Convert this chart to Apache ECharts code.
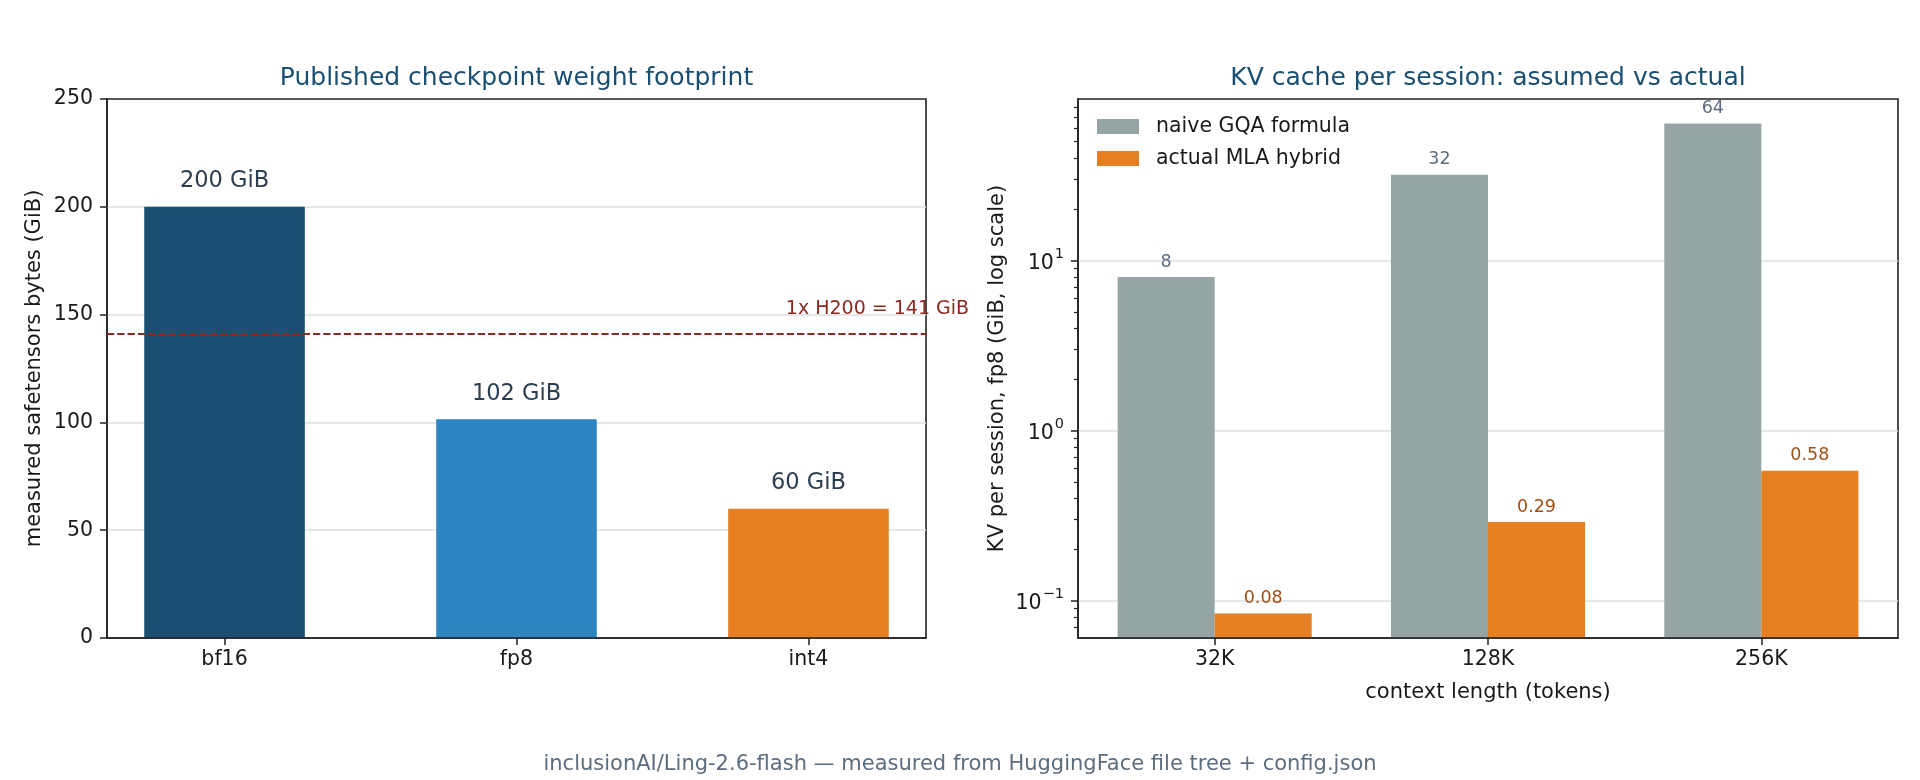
<!DOCTYPE html>
<html>
<head>
<meta charset="utf-8">
<title>Ling-2.6-flash footprint</title>
<script src="https://cdn.jsdelivr.net/npm/echarts@6/dist/echarts.min.js"></script>
<style>
  html, body { margin: 0; padding: 0; background: #fff; }
  #chart { width: 1920px; height: 780px; }
</style>
</head>
<body>
<div id="chart"></div>
<script>
// ---- data ----
const weightCats = ['bf16', 'fp8', 'int4'];
const weightGiB = [200, 101.5, 60];
const weightLabels = ['200 GiB', '102 GiB', '60 GiB'];
const h200GiB = 141;
const h200Text = '1x H200 = 141 GiB';

const ctxCats = ['32K', '128K', '256K'];
const naiveGQA = [8, 32, 64];
const actualMLA = [0.084, 0.29, 0.58];
const naiveLabels = ['8', '32', '64'];
const mlaLabels = ['0.08', '0.29', '0.58'];
const seriesNames = ['naive GQA formula', 'actual MLA hybrid'];

const logMajor = [0.1, 1, 10];
const logMajorExp = ['\u22121', '0', '1'];

// ---- style / layout ----
const FONT = 'DejaVu Sans';
const weightColors = ['#1b4f72', '#2e86c1', '#e67e22'];
const gray = '#95a5a6', orange = '#e67e22';
const frame = '#222', gridCol = '#dbe0e1';
const G0 = { left: 107, width: 819, top: 99, height: 539 };
const G1 = { left: 1078, width: 820, top: 99, height: 539 };

// matplotlib-like x limits for the left chart (bar width 0.55, 5% margin)
const bw = 0.55;
const lo = -bw / 2, hi = weightCats.length - 1 + bw / 2;
const xMin = lo - 0.05 * (hi - lo), xMax = hi + 0.05 * (hi - lo);
const barPx = bw * G0.width / (xMax - xMin);

// log limits for the right chart (5% margin in log space)
const allKV = naiveGQA.concat(actualMLA);
const lgLo = Math.log10(Math.min.apply(null, allKV));
const lgHi = Math.log10(Math.max.apply(null, allKV));
const logMin = Math.pow(10, lgLo - 0.05 * (lgHi - lgLo));
const logMax = Math.pow(10, lgHi + 0.05 * (lgHi - lgLo));
const logMinor = [];
for (let e = -2; e <= 1; e++) {
  for (let k = 2; k <= 9; k++) {
    const v = k * Math.pow(10, e);
    if (v > logMin && v < logMax) logMinor.push(v);
  }
}

const tickLabel = { fontFamily: FONT, fontSize: 20.5, color: '#1a1a1a', margin: 14 };
const xTickLabel = Object.assign({}, tickLabel, { margin: 11 });
const nameStyle = { fontFamily: FONT, fontSize: 21, color: '#1a1a1a' };
const axLine = { show: true, onZero: false, lineStyle: { color: frame, width: 1.6 } };
const gridLineLin = { show: true, showMinLine: false, showMaxLine: false, lineStyle: { color: gridCol, width: 1.5 } };
const gridLineLog = { show: true, lineStyle: { color: gridCol, width: 1.5 } };

function logLabel(v) {
  const i = logMajor.findIndex(m => Math.abs(Math.log10(m) - Math.log10(v)) < 1e-6);
  return i < 0 ? '' : '{b|10}{e|' + logMajorExp[i] + '}';
}

const chart = echarts.init(document.getElementById('chart'), null, { renderer: 'canvas' });

const option = {
  animation: false,
  backgroundColor: '#fff',
  textStyle: { fontFamily: FONT },
  grid: [
    Object.assign({ show: true, borderColor: frame, borderWidth: 1.6, backgroundColor: 'transparent' }, G0),
    Object.assign({ show: true, borderColor: frame, borderWidth: 1.6, backgroundColor: 'transparent' }, G1)
  ],
  legend: {
    data: seriesNames,
    orient: 'vertical',
    left: 1092, top: 111,
    itemWidth: 42, itemHeight: 15, itemGap: 11,
    icon: 'rect',
    textStyle: { fontFamily: FONT, fontSize: 20.5, color: '#1a1a1a', lineHeight: 21, padding: [0, 0, 0, 12] }
  },
  xAxis: [
    {
      type: 'value', gridIndex: 0, min: xMin, max: xMax, z: 10,
      axisLine: axLine,
      axisTick: { show: true, length: 7, lineStyle: { color: frame, width: 1.5 }, customValues: [0, 1, 2] },
      axisLabel: Object.assign({ customValues: [0, 1, 2], formatter: v => weightCats[Math.round(v)] }, xTickLabel),
      splitLine: { show: false }
    },
    {
      type: 'category', gridIndex: 1, data: ctxCats, z: 10,
      name: 'context length (tokens)', nameLocation: 'middle', nameGap: 44, nameTextStyle: nameStyle,
      axisLine: axLine,
      axisTick: { show: true, alignWithLabel: true, length: 7, lineStyle: { color: frame, width: 1.5 } },
      axisLabel: xTickLabel,
      splitLine: { show: false }
    }
  ],
  yAxis: [
    {
      type: 'value', gridIndex: 0, min: 0, max: 250, interval: 50,
      name: 'measured safetensors bytes (GiB)', nameLocation: 'middle', nameGap: 62, nameTextStyle: nameStyle,
      axisLine: axLine,
      axisTick: { show: true, length: 7, lineStyle: { color: frame, width: 1.5 } },
      axisLabel: tickLabel,
      splitLine: gridLineLin
    },
    {
      type: 'log', logBase: 10, gridIndex: 1, position: 'left', min: logMin, max: logMax, startValue: logMin,
      name: 'KV per session, fp8 (GiB, log scale)', nameLocation: 'middle', nameGap: 70, nameTextStyle: nameStyle,
      axisLine: axLine,
      axisTick: { show: true, length: 7, lineStyle: { color: frame, width: 1.5 }, customValues: logMajor },
      axisLabel: Object.assign({
        customValues: logMajor, formatter: logLabel,
        rich: {
          b: { fontFamily: FONT, fontSize: 20.5, color: '#1a1a1a', lineHeight: 28, verticalAlign: 'bottom' },
          e: { fontFamily: FONT, fontSize: 14.5, color: '#1a1a1a', lineHeight: 18, verticalAlign: 'top', padding: [0, 0, 0, 1] }
        }
      }, tickLabel),
      splitLine: gridLineLog
    },
    {
      type: 'log', logBase: 10, gridIndex: 1, position: 'left', offset: 0, min: logMin, max: logMax,
      axisLine: { show: false, onZero: false },
      axisTick: { show: true, length: 4, lineStyle: { color: frame, width: 1.2 }, customValues: logMinor },
      axisLabel: { show: false },
      splitLine: { show: false }
    }
  ],
  series: [
    {
      type: 'bar', xAxisIndex: 0, yAxisIndex: 0, barWidth: barPx,
      data: weightGiB.map((v, i) => ({ value: [i, v], itemStyle: { color: weightColors[i] } })),
      label: {
        show: true, position: 'top', distance: 14,
        fontFamily: FONT, fontSize: 22.5, color: '#2c3e50',
        formatter: p => weightLabels[p.dataIndex]
      },
      markLine: {
        silent: true, symbol: ['none', 'none'],
        data: [{ yAxis: h200GiB }],
        lineStyle: { color: '#8b2a20', width: 2, type: [7.2, 3.1] },
        label: { show: false }
      }
    },
    {
      name: seriesNames[0], type: 'bar', xAxisIndex: 1, yAxisIndex: 1,
      barWidth: '35.5%', barGap: '0%', data: naiveGQA,
      itemStyle: { color: gray },
      label: {
        show: true, position: 'top', distance: 6,
        fontFamily: FONT, fontSize: 17.5, color: '#5d6d7e',
        formatter: p => naiveLabels[p.dataIndex]
      }
    },
    {
      name: seriesNames[1], type: 'bar', xAxisIndex: 1, yAxisIndex: 1,
      barWidth: '35.5%', barGap: '0%', data: actualMLA,
      itemStyle: { color: orange },
      label: {
        show: true, position: 'top', distance: 6,
        fontFamily: FONT, fontSize: 17.5, color: '#a04f12',
        formatter: p => mlaLabels[p.dataIndex]
      }
    }
  ]
};
chart.setOption(option);

// titles, footer and the H200 note (anchored through the chart's own scale)
const h200Pos = chart.convertToPixel({ gridIndex: 0 }, [2.55, 148]);
chart.setOption({
  graphic: [
    { type: 'text', x: G0.left + G0.width / 2, y: 78,
      style: { text: 'Published checkpoint weight footprint', font: '25px "DejaVu Sans"', fill: '#1b4f72', textAlign: 'center', textVerticalAlign: 'middle' } },
    { type: 'text', x: G1.left + G1.width / 2, y: 78,
      style: { text: 'KV cache per session: assumed vs actual', font: '25px "DejaVu Sans"', fill: '#1b4f72', textAlign: 'center', textVerticalAlign: 'middle' } },
    { type: 'text', x: 960, y: 765,
      style: { text: 'inclusionAI/Ling-2.6-flash \u2014 measured from HuggingFace file tree + config.json', font: '21px "DejaVu Sans"', fill: '#5d6d7e', textAlign: 'center', textVerticalAlign: 'middle' } },
    { type: 'text', x: h200Pos[0], y: h200Pos[1], z: 20,
      style: { text: h200Text, font: '19px "DejaVu Sans"', fill: '#8b2a20', textAlign: 'right', textVerticalAlign: 'bottom' } }
  ]
});
</script>
</body>
</html>
